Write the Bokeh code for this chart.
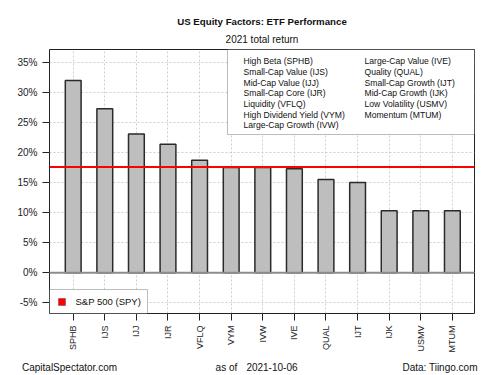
from bokeh.plotting import figure
from bokeh.models import (Label, Span, BoxAnnotation, FixedTicker, Range1d,
                          LinearAxis, Title)
from bokeh.embed import file_html
from bokeh.resources import INLINE
import math

tickers = ["SPHB", "IJS", "IJJ", "IJR", "VFLQ", "VYM", "IVW", "IVE",
           "QUAL", "IJT", "IJK", "USMV", "MTUM"]
returns = [32.0, 27.3, 23.1, 21.4, 18.7, 17.5, 17.5, 17.3, 15.5, 15.0,
           10.3, 10.3, 10.3]
spy_return = 17.6
legend_col1 = ["High Beta (SPHB)", "Small-Cap Value (IJS)", "Mid-Cap Value (IJJ)",
               "Small-Cap Core (IJR)", "Liquidity (VFLQ)",
               "High Dividend Yield (VYM)", "Large-Cap Growth (IVW)"]
legend_col2 = ["Large-Cap Value (IVE)", "Quality (QUAL)", "Small-Cap Growth (IJT)",
               "Mid-Cap Growth (IJK)", "Low Volatility (USMV)", "Momentum (MTUM)"]
y_ticks = [-5, 0, 5, 10, 15, 20, 25, 30, 35]
title_text = "US Equity Factors: ETF Performance"
subtitle_text = "2021 total return"
footer_texts = ["CapitalSpectator.com", "as of", "2021-10-06", "Data: Tiingo.com"]
spy_label = "S&P 500 (SPY)"

FONT = "Liberation Sans"
W, H = 500, 375
BL, BR, BT, BB = 49, 26, 49, 62
FW = W - BL - BR
FH = H - BT - BB

idx = list(range(len(tickers)))

p = figure(width=W, height=H, output_backend="svg", toolbar_location=None,
           x_range=Range1d(-0.75, 12.70), y_range=Range1d(-6.8, 37.16),
           min_border_left=BL, min_border_right=BR, min_border_top=BT,
           min_border_bottom=BB, frame_width=FW, frame_height=FH)
p.background_fill_color = "white"
p.border_fill_color = "white"
p.outline_line_color = "#222222"
p.outline_line_width = 1

# titles (first added sits nearest the plot)
p.add_layout(Title(text=subtitle_text, align="center", text_font=FONT,
                   text_font_size="10px", text_font_style="normal",
                   text_color="#111111", standoff=9), "above")
p.add_layout(Title(text=title_text, align="center", text_font=FONT,
                   text_font_size="9.7px", text_font_style="bold",
                   text_color="#111111", standoff=2), "above")

# grid
p.xgrid.ticker = FixedTicker(ticks=idx)
p.ygrid.ticker = FixedTicker(ticks=y_ticks)
for g in (p.xgrid, p.ygrid):
    g.grid_line_color = "#CFCFCF"
    g.grid_line_dash = "2 2"
    g.grid_line_width = 1

# axes
p.xaxis.ticker = FixedTicker(ticks=idx)
p.xaxis.major_label_overrides = {i: t for i, t in enumerate(tickers)}
p.xaxis.major_label_orientation = math.pi / 2
p.yaxis.ticker = FixedTicker(ticks=y_ticks)
p.yaxis.major_label_overrides = {v: f"{v}%" for v in y_ticks}
for ax in (p.xaxis[0], p.yaxis[0]):
    ax.axis_line_color = None
    ax.major_tick_out = 7
    ax.major_tick_in = 0
    ax.major_tick_line_color = "#222222"
    ax.minor_tick_line_color = None
    ax.major_label_text_font = FONT
    ax.major_label_text_color = "#222222"
    ax.major_label_standoff = 5
p.xaxis.major_label_text_font_size = "9px"
p.yaxis.major_label_text_font_size = "10px"

# footer as a tick-less axis below the category axis
footer_pos = [-0.117, 4.85, 6.29, 11.61]
footer_axis = LinearAxis(ticker=FixedTicker(ticks=footer_pos),
                         major_label_overrides={v: t for v, t in zip(footer_pos, footer_texts)},
                         axis_line_color=None, major_tick_line_color=None,
                         minor_tick_line_color=None, major_tick_out=0,
                         major_tick_in=0, major_label_standoff=6,
                         major_label_text_font=FONT,
                         major_label_text_font_size="10px",
                         major_label_text_color="#111111")
p.add_layout(footer_axis, "below")

# bars
p.vbar(x=idx, top=returns, bottom=0, width=0.5, fill_color="#BEBEBE",
       line_color="#2A2A2A", line_width=1.5)

p.add_layout(Span(location=0, dimension="width", line_color="#8C8C8C", line_width=2))
p.add_layout(Span(location=spy_return, dimension="width", line_color="#FF0000",
                  line_width=2))

# top-right legend box
p.add_layout(BoxAnnotation(left=178, right=FW, top=FH, bottom=FH - 85,
                           left_units="screen", right_units="screen",
                           top_units="screen", bottom_units="screen",
                           fill_color="white", fill_alpha=1,
                           line_color="#222222", line_width=1))
for i, t in enumerate(legend_col1):
    p.add_layout(Label(x=194, y=FH - 11.7 - i * 10.7, x_units="screen",
                       y_units="screen", text=t, text_font=FONT,
                       text_font_size="8.6px", text_baseline="middle",
                       text_align="left", text_color="#111111"))
for i, t in enumerate(legend_col2):
    p.add_layout(Label(x=315, y=FH - 11.7 - i * 10.7, x_units="screen",
                       y_units="screen", text=t, text_font=FONT,
                       text_font_size="8.6px", text_baseline="middle",
                       text_align="left", text_color="#111111"))

# bottom-left legend
p.add_layout(BoxAnnotation(left=0, right=98, top=24, bottom=0,
                           left_units="screen", right_units="screen",
                           top_units="screen", bottom_units="screen",
                           fill_color="white", fill_alpha=1,
                           line_color="#222222", line_width=1))
p.add_layout(BoxAnnotation(left=9, right=16, top=15, bottom=8,
                           left_units="screen", right_units="screen",
                           top_units="screen", bottom_units="screen",
                           fill_color="#FF0000", fill_alpha=1,
                           line_color="#111111", line_width=1))
p.add_layout(Label(x=26, y=12, x_units="screen", y_units="screen", text=spy_label,
                   text_font=FONT, text_font_size="9.5px", text_baseline="middle",
                   text_align="left", text_color="#111111"))

open("out.html", "w").write(file_html(p, INLINE))
